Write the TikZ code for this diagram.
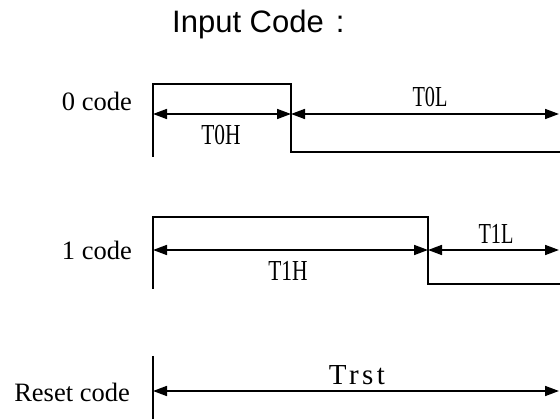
\documentclass[tikz,border=0pt]{standalone}
\usepackage{fontspec}
\setmainfont{Liberation Serif}
\newfontfamily\titlefont{Liberation Sans}
\newfontfamily\trstfont[LetterSpace=12]{Liberation Serif}
\usetikzlibrary{arrows.meta}
\begin{document}
\begin{tikzpicture}[x=1pt,y=-1pt,
  wave/.style={line width=1.6pt},
  dim/.style={line width=1.6pt,{Triangle[length=14pt,width=10pt]}-{Triangle[length=14pt,width=10pt]}},
  codelabel/.style={anchor=base east,inner sep=0pt,font=\fontsize{26.5}{30}\selectfont},
  tlabel/.style={anchor=base,inner sep=0pt,font=\fontsize{29}{32}\selectfont},
  title/.style={anchor=base west,inner sep=0pt,font=\titlefont\fontsize{31}{34}\selectfont}]
\useasboundingbox (0,0) rectangle (560,419);
% title
\node[title] (title) at (172,33) {Input Code\hspace{12pt}:};
% row labels
\node[codelabel] (l0) at (132,111) {0 code};
\node[codelabel] (l1) at (132,260) {1 code};
\node[codelabel] (lr) at (130,402) {Reset code};
% 0 code waveform
\coordinate (a0) at (153,157);
\coordinate (a1) at (153,84);
\coordinate (a2) at (291,84);
\coordinate (a3) at (291,152);
\coordinate (a4) at (562,152);
\draw[wave] (a0) -- (a1) -- (a2) -- (a3) -- (a4);
\coordinate (d0) at (153,114);
\coordinate (d1) at (291,114);
\coordinate (d2) at (559,114);
\draw[dim] (d0) -- (d1);
\draw[dim] (d1) -- (d2);
\node[tlabel] (t0h) at (221,145) {\scalebox{0.74}[1]{T0H}};
\node[tlabel] (t0l) at (430,107) {\scalebox{0.70}[1]{T0L}};
% 1 code waveform
\coordinate (b0) at (153,289);
\coordinate (b1) at (153,217);
\coordinate (b2) at (428,217);
\coordinate (b3) at (428,284);
\coordinate (b4) at (562,284);
\draw[wave] (b0) -- (b1) -- (b2) -- (b3) -- (b4);
\coordinate (e0) at (153,250);
\coordinate (e1) at (428,250);
\coordinate (e2) at (559,250);
\draw[dim] (e0) -- (e1);
\draw[dim] (e1) -- (e2);
\node[tlabel] (t1h) at (288,281) {\scalebox{0.74}[1]{T1H}};
\node[tlabel] (t1l) at (496,244) {\scalebox{0.70}[1]{T1L}};
% reset code
\coordinate (c0) at (153,356);
\coordinate (c1) at (153,421);
\draw[wave] (c0) -- (c1);
\coordinate (f0) at (153,391);
\coordinate (f1) at (559,391);
\draw[dim] (f0) -- (f1);
\node[tlabel] (trst) at (357,385) {\trstfont Trst};
\end{tikzpicture}
\end{document}
